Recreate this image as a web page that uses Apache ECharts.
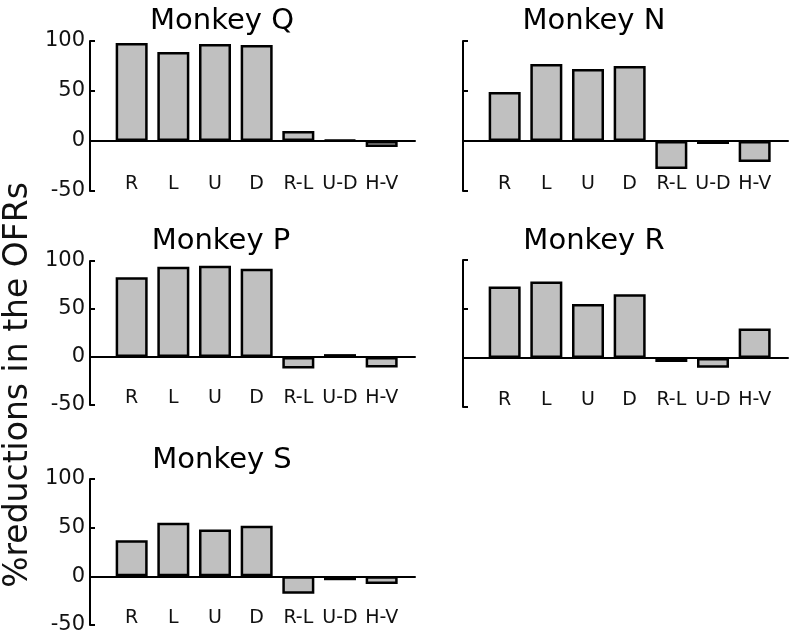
<!DOCTYPE html>
<html>
<head>
<meta charset="utf-8">
<script src="https://cdn.jsdelivr.net/npm/echarts@6/dist/echarts.min.js"></script>
<style>
html, body { margin: 0; padding: 0; background: #fff; }
#main { width: 800px; height: 642px; }
</style>
</head>
<body>
<div id="main"></div>
<script>
// 数据
var categories = ['R', 'L', 'U', 'D', 'R-L', 'U-D', 'H-V'];
var yTicks = [-50, 0, 50, 100];
var monkeyQ = [98, 89, 97, 96, 10, 1, -6];
var monkeyN = [49, 77, 72, 75, -28, -3, -21];
var monkeyP = [83, 94, 95, 92, -12, 3, -11];
var monkeyR = [73, 78, 55, 65, -4, -10, 30];
var monkeyS = [37, 55, 48, 52, -18, -4, -8];

var titles = ['Monkey Q', 'Monkey N', 'Monkey P', 'Monkey R', 'Monkey S'];
var values = [monkeyQ, monkeyN, monkeyP, monkeyR, monkeyS];

// 每个小图的位置
var layout = [
	{ left : 90, top : 41, height : 150, labels : true, titleX : 222, titleY : 21 },
	{ left : 463, top : 41, height : 150, labels : false, titleX : 594, titleY : 21 },
	{ left : 90, top : 261, height : 144, labels : true, titleX : 221, titleY : 241 },
	{ left : 463, top : 260, height : 147, labels : false, titleX : 594, titleY : 241 },
	{ left : 90, top : 479, height : 146, labels : true, titleX : 222, titleY : 460 }
];

var font = 'DejaVu Sans';

function buildOption() {
	var grid = [], xAxis = [], yAxis = [], series = [], graphic = [];
	for (var i = 0; i < layout.length; i++) {
		var p = layout[i];
		grid.push({
			left : p.left,
			top : p.top,
			width : 325,
			height : p.height
		});
		xAxis.push({
			type : 'value',
			gridIndex : i,
			min : -1,
			max : 6.8,
			interval : 1,
			splitLine : { show : false },
			axisTick : { show : false },
			axisLine : {
				onZero : true,
				lineStyle : { color : '#000', width : 2 }
			},
			axisLabel : {
				margin : -16,
				showMinLabel : false,
				showMaxLabel : false,
				fontFamily : font,
				fontSize : 19,
				color : '#111',
				formatter : function(v) {
					return categories[v] || '';
				}
			}
		});
		yAxis.push({
			type : 'value',
			gridIndex : i,
			min : yTicks[0],
			max : yTicks[yTicks.length - 1],
			interval : 50,
			splitLine : { show : false },
			axisLine : {
				show : true,
				onZero : false,
				lineStyle : { color : '#000', width : 2 }
			},
			axisTick : {
				show : true,
				inside : true,
				length : 5,
				lineStyle : { color : '#000', width : 2 }
			},
			axisLabel : {
				show : p.labels,
				margin : 5,
				fontFamily : font,
				fontSize : 21,
				color : '#111'
			}
		});
		var pts = [];
		for (var k = 0; k < categories.length; k++) {
			pts.push([k, values[i][k]]);
		}
		series.push({
			type : 'bar',
			xAxisIndex : i,
			yAxisIndex : i,
			barWidth : 32,
			data : pts,
			itemStyle : {
				color : '#c0c0c0',
				borderColor : '#000',
				borderWidth : 2.5
			}
		});
		graphic.push({
			type : 'text',
			x : p.titleX,
			y : p.titleY,
			style : {
				text : titles[i],
				fontFamily : font,
				fontSize : 29,
				fill : '#000',
				align : 'center',
				verticalAlign : 'middle'
			}
		});
	}
	// 纵轴标题
	graphic.push({
		type : 'text',
		x : 18,
		y : 385,
		rotation : Math.PI / 2,
		style : {
			text : '%reductions in the OFRs',
			fontFamily : font,
			fontSize : 33,
			fill : '#111',
			align : 'center',
			verticalAlign : 'middle'
		}
	});
	return {
		animation : false,
		grid : grid,
		xAxis : xAxis,
		yAxis : yAxis,
		series : series,
		graphic : graphic
	};
}

var myChart = echarts.init(document.getElementById('main'));
myChart.setOption(buildOption());
</script>
</body>
</html>
